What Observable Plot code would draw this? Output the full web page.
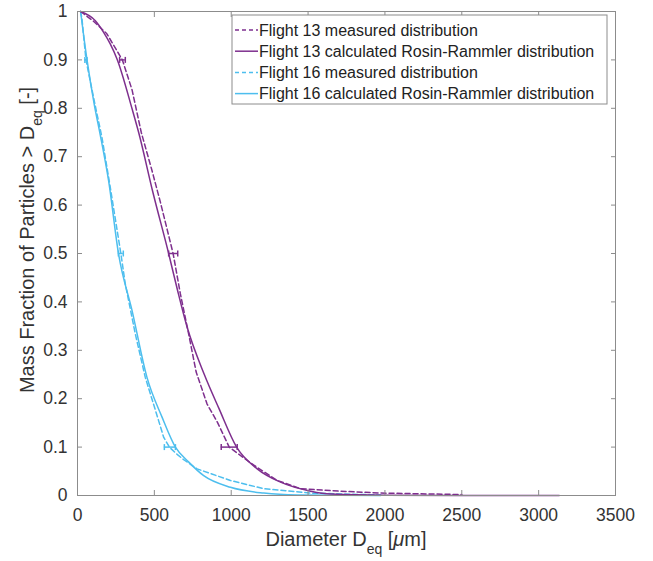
<!DOCTYPE html>
<html><head><meta charset="utf-8">
<script src="https://cdn.jsdelivr.net/npm/d3@7"></script>
<script src="https://cdn.jsdelivr.net/npm/@observablehq/plot@0.6"></script>
<style>body{margin:0;background:#fff;} svg{display:block;}</style>
</head><body><div id="chart"></div>
<script>
// Flight 13 measured distribution (dashed)
const f13MeasD = [20, 104, 191, 292, 355, 415, 485, 540, 622, 669, 723, 772, 843, 909, 987, 1080, 1169, 1300, 1452, 1700, 1973, 2500];
const f13MeasF = [1, 0.98, 0.954, 0.9, 0.838, 0.75, 0.671, 0.605, 0.5, 0.417, 0.334, 0.255, 0.189, 0.152, 0.1, 0.078, 0.058, 0.031, 0.014, 0.009, 0.005, 0.002];
// Flight 13 calculated Rosin-Rammler (solid)
const f13CalcD = [20, 116, 170, 213, 257, 355, 398, 490, 593, 650, 713, 825, 920, 1035, 1169, 1321, 1517, 1650, 2000, 2500, 3134];
const f13CalcF = [1, 0.981, 0.957, 0.933, 0.902, 0.799, 0.75, 0.627, 0.5, 0.425, 0.348, 0.25, 0.18, 0.1, 0.055, 0.0275, 0.009, 0.003, 0.0005, 0, 0];
// Flight 16 measured distribution (dashed)
const f16MeasD = [20, 29, 55, 115, 159, 213, 282, 311, 376, 441, 507, 561, 598, 637, 691, 778, 995, 1212, 1517, 1973];
const f16MeasF = [1, 0.985, 0.9, 0.806, 0.74, 0.637, 0.5, 0.437, 0.334, 0.244, 0.176, 0.12, 0.1, 0.088, 0.074, 0.055, 0.031, 0.014, 0.005, 0.001];
// Flight 16 calculated Rosin-Rammler (solid)
const f16CalcD = [20, 61, 110, 145, 202, 267, 355, 452, 550, 637, 724, 821, 995, 1212, 1430, 1973];
const f16CalcF = [1, 0.902, 0.806, 0.75, 0.651, 0.499, 0.382, 0.244, 0.162, 0.1, 0.069, 0.041, 0.017, 0.005, 0.001, 0];
// Horizontal error bars on measured points
const f13ErrF = [0.9, 0.5, 0.1];
const f13ErrLo = [274, 593, 935];
const f13ErrHi = [311, 652, 1039];
const f16ErrF = [0.9, 0.5, 0.1];
const f16ErrLo = [48, 266, 565];
const f16ErrHi = [62, 298, 637];

const xTicks = [0, 500, 1000, 1500, 2000, 2500, 3000, 3500];
const xTickLabels = ["0", "500", "1000", "1500", "2000", "2500", "3000", "3500"];
const yTicks = [0, 0.1, 0.2, 0.3, 0.4, 0.5, 0.6, 0.7, 0.8, 0.9, 1];
const yTickLabels = ["0", "0.1", "0.2", "0.3", "0.4", "0.5", "0.6", "0.7", "0.8", "0.9", "1"];
const legendLabels = [
  "Flight 13 measured distribution",
  "Flight 13 calculated Rosin-Rammler distribution",
  "Flight 16 measured distribution",
  "Flight 16 calculated Rosin-Rammler distribution"
];

const purple = "#7E2F8E", cyan = "#4DBEEE";
const dash = "5,3";
const axisGray = "#8c8c8c";
const W = 653, H = 561, mL = 77, mR = 38, mT = 11, mB = 66;

const toRows = (xs, ys) => xs.map((x, i) => ({x, y: ys[i]}));
const toErr = (ys, lo, hi) => ys.map((y, i) => ({y, lo: lo[i], hi: hi[i]}));
const f13Meas = toRows(f13MeasD, f13MeasF);
const f13Calc = toRows(f13CalcD, f13CalcF);
const f16Meas = toRows(f16MeasD, f16MeasF);
const f16Calc = toRows(f16CalcD, f16CalcF);
const f13Err = toErr(f13ErrF, f13ErrLo, f13ErrHi);
const f16Err = toErr(f16ErrF, f16ErrLo, f16ErrHi);

const cap = {draw(ctx, size) { const r = Math.sqrt(size / Math.PI); ctx.moveTo(0, -r); ctx.lineTo(0, r); }};
const errMarks = (data, color) => [
  Plot.ruleY(data, {x1: "lo", x2: "hi", y: "y", stroke: color, strokeWidth: 1.5}),
  Plot.dot(data, {x: "lo", y: "y", symbol: cap, r: 3, stroke: color, fill: "none", strokeWidth: 1.5}),
  Plot.dot(data, {x: "hi", y: "y", symbol: cap, r: 3, stroke: color, fill: "none", strokeWidth: 1.5})
];
const blank = () => "";
const tickLen = 5;

const chart = Plot.plot({
  width: W, height: H, marginLeft: mL, marginRight: mR, marginTop: mT, marginBottom: mB,
  style: {fontFamily: "'Liberation Sans', Arial, sans-serif", fontSize: "17.5px", color: "#333", background: "white", overflow: "visible"},
  x: {domain: [0, 3500]},
  y: {domain: [0, 1]},
  marks: [
    Plot.line(f16Calc, {x: "x", y: "y", stroke: cyan, strokeWidth: 1.5, curve: "monotone-x"}),
    Plot.line(f16Meas, {x: "x", y: "y", stroke: cyan, strokeWidth: 1.5, strokeDasharray: dash}),
    Plot.line(f13Calc, {x: "x", y: "y", stroke: purple, strokeWidth: 1.5, curve: "monotone-x"}),
    Plot.line(f13Meas, {x: "x", y: "y", stroke: purple, strokeWidth: 1.5, strokeDasharray: dash}),
    ...errMarks(f16Err, cyan),
    ...errMarks(f13Err, purple),
    Plot.frame({stroke: axisGray}),
    Plot.axisX({ticks: xTicks, tickSize: 0, tickPadding: 13, label: null, fill: "#333", tickFormat: d => xTickLabels[xTicks.indexOf(d)]}),
    Plot.axisX({ticks: xTicks, tickSize: tickLen, dy: -tickLen, tickFormat: blank, label: null, stroke: axisGray}),
    Plot.axisX({anchor: "top", ticks: xTicks, tickSize: tickLen, dy: tickLen, tickFormat: blank, label: null, stroke: axisGray}),
    Plot.axisY({ticks: yTicks, tickSize: 0, tickPadding: 10, tickFormat: d => yTickLabels[yTicks.indexOf(d)], label: null, fill: "#333"}),
    Plot.axisY({ticks: yTicks, tickSize: tickLen, dx: tickLen, tickFormat: blank, label: null, stroke: axisGray}),
    Plot.axisY({anchor: "right", ticks: yTicks, tickSize: tickLen, dx: -tickLen, tickFormat: blank, label: null, stroke: axisGray})
  ]
});
document.getElementById("chart").appendChild(chart);

const svg = d3.select(chart);
const font = "'Liberation Sans', Arial, sans-serif";
// X axis title
const cx = mL + (W - mL - mR) / 2;
const xt = svg.append("text").attr("x", cx).attr("y", 546).attr("text-anchor", "middle")
  .attr("font-family", font).attr("font-size", 20).attr("fill", "#333");
xt.append("tspan").text("Diameter D");
xt.append("tspan").attr("font-size", 14).attr("dy", 8).text("eq");
xt.append("tspan").attr("dy", -8).text(" [");
xt.append("tspan").attr("font-style", "italic").text("μ");
xt.append("tspan").text("m]");
// Y axis title
const yt = svg.append("text").attr("transform", "translate(34,240) rotate(-90)").attr("text-anchor", "middle")
  .attr("font-family", font).attr("font-size", 20).attr("fill", "#333");
yt.append("tspan").text("Mass Fraction of Particles > D");
yt.append("tspan").attr("font-size", 14).attr("dy", 8).text("eq");
yt.append("tspan").attr("dy", -8).text(" [-]");
// Legend
const lg = svg.append("g").attr("transform", "translate(232,15)");
lg.append("rect").attr("width", 375).attr("height", 89).attr("fill", "white").attr("stroke", axisGray).attr("stroke-width", 1);
const lstyles = [[purple, dash], [purple, null], [cyan, dash], [cyan, null]];
legendLabels.forEach((t, i) => {
  const y = 15 + i * 21.2;
  const ln = lg.append("line").attr("x1", 3).attr("x2", 26).attr("y1", y).attr("y2", y)
    .attr("stroke", lstyles[i][0]).attr("stroke-width", 1.5);
  if (lstyles[i][1]) ln.attr("stroke-dasharray", "4,3");
  lg.append("text").attr("x", 27).attr("y", y).attr("dy", "0.35em").attr("text-anchor", "start")
    .attr("font-family", font).attr("font-size", 16).attr("fill", "#222").text(t);
});
</script>
</body></html>
